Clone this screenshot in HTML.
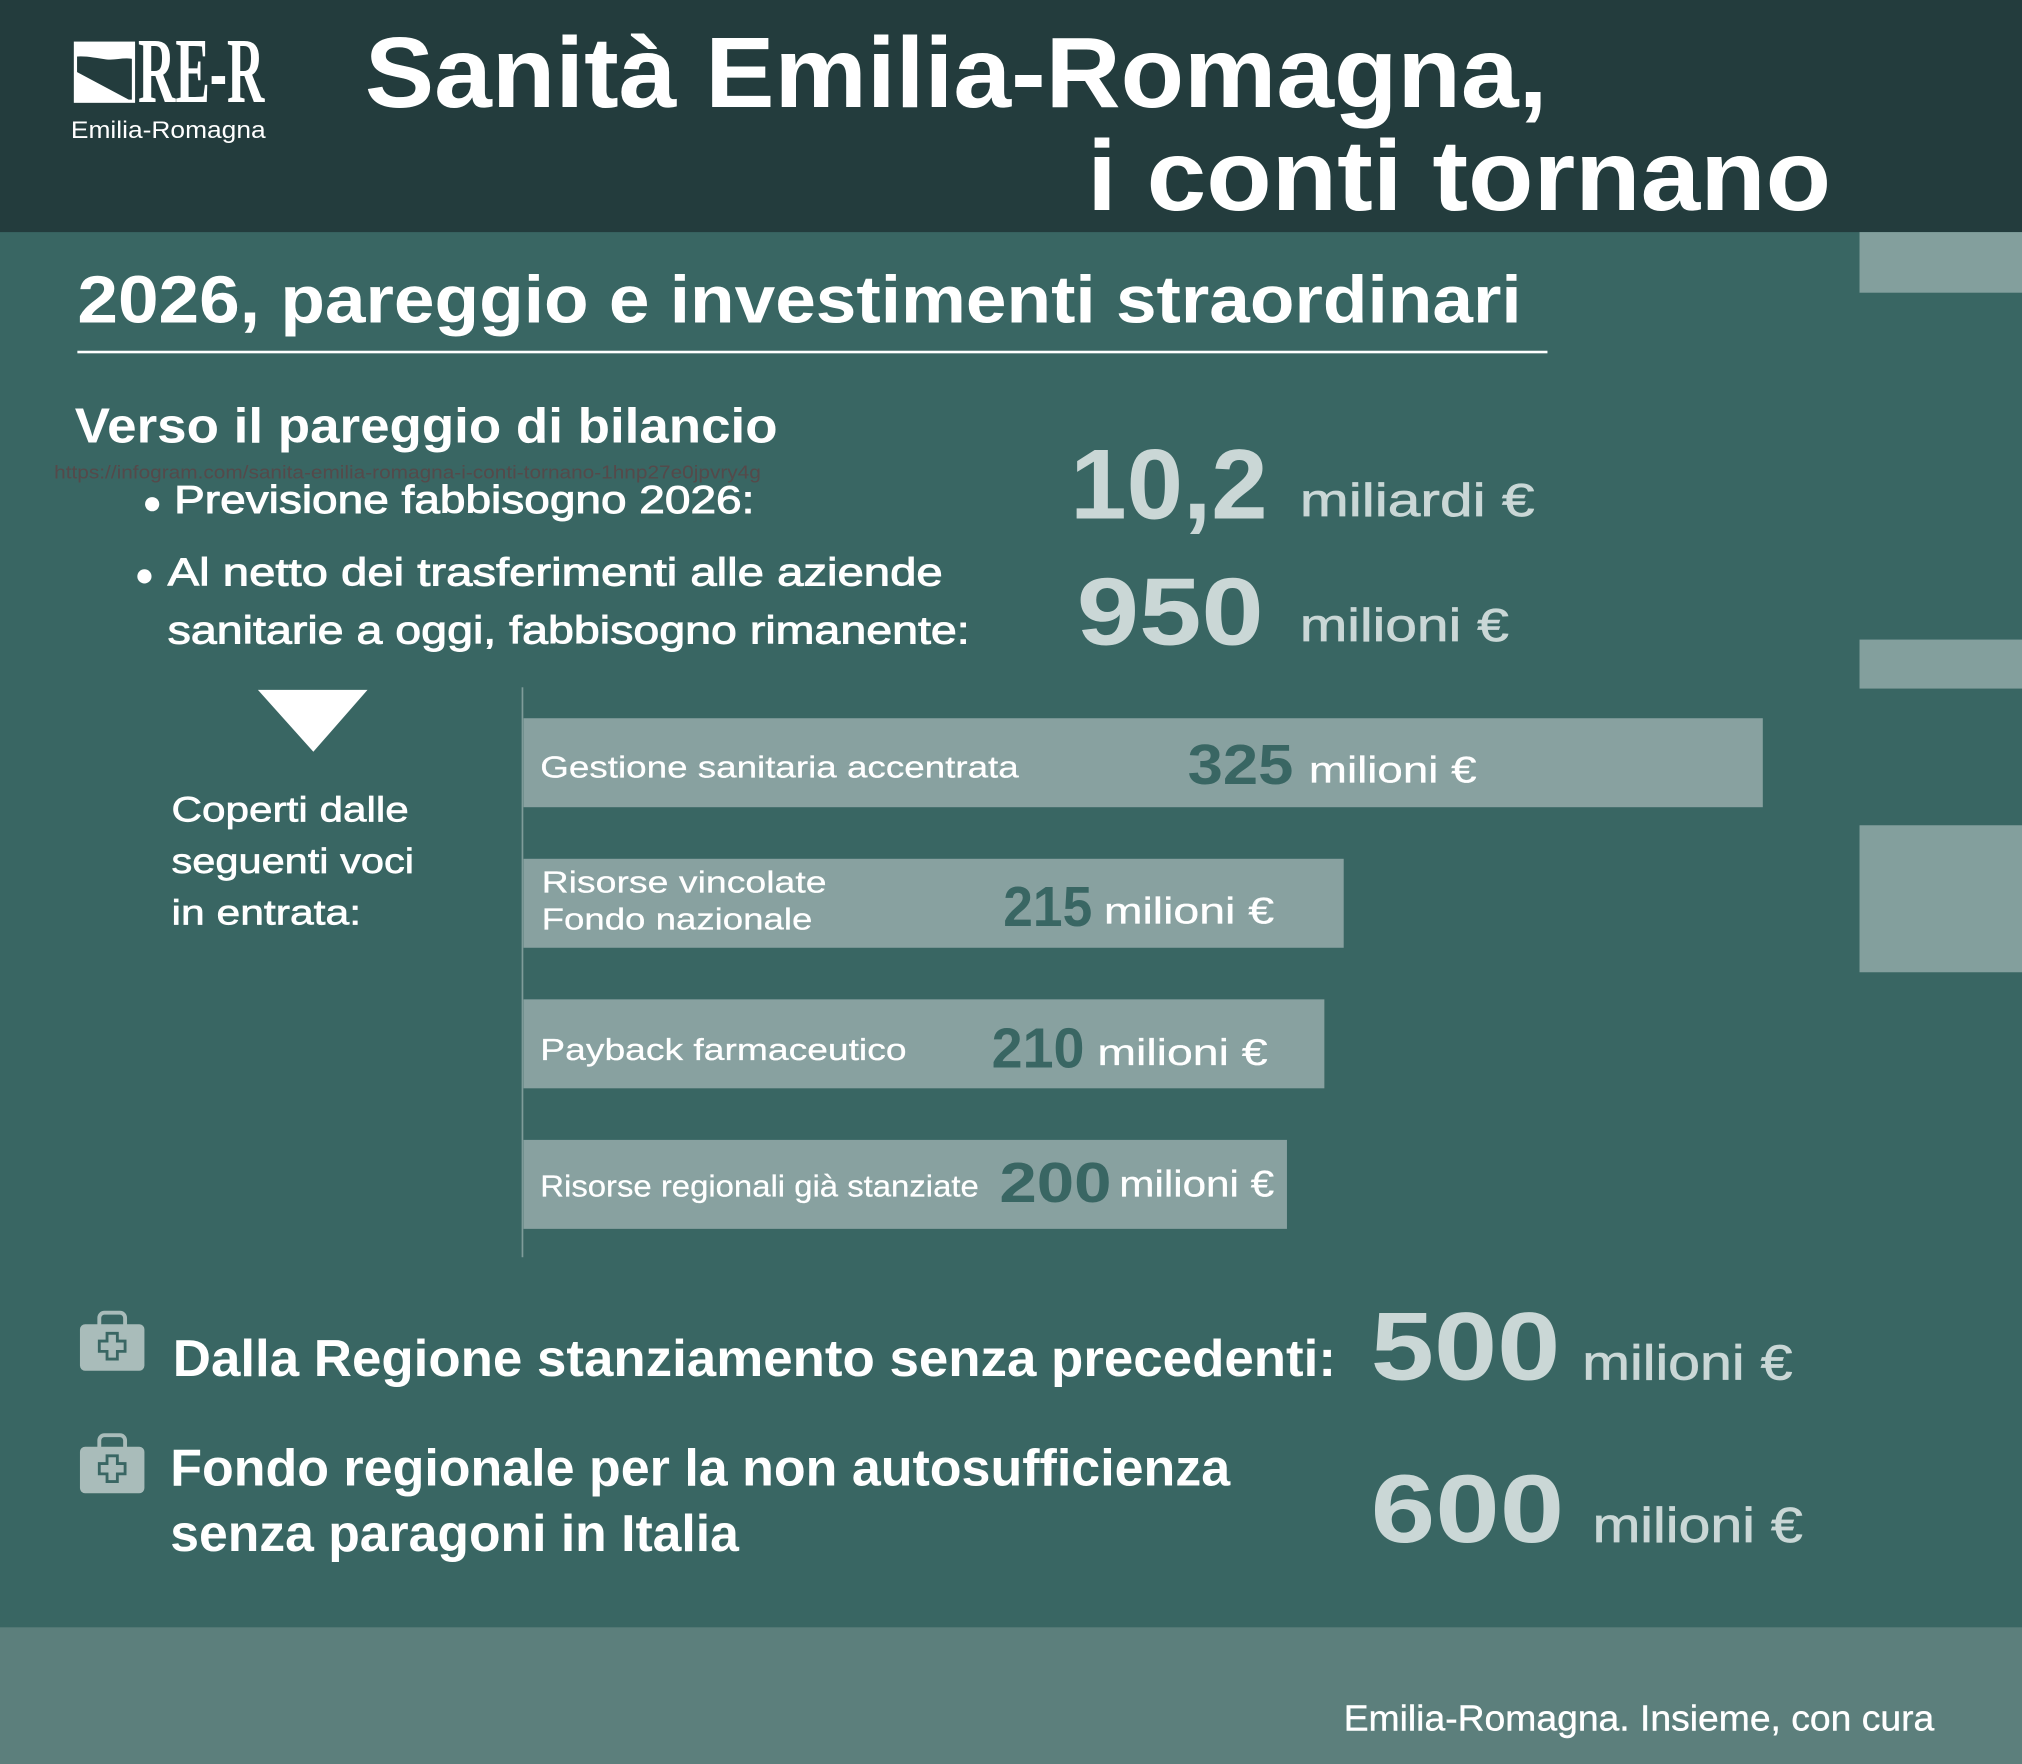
<!DOCTYPE html>
<html>
<head>
<meta charset="utf-8">
<style>
  html,body{margin:0;padding:0;background:#396663;}
  body{width:2022px;height:1764px;overflow:hidden;}
  svg{display:block;}
  text{font-family:"Liberation Sans",Arial,sans-serif;}
</style>
</head>
<body>
<svg width="2022" height="1764" viewBox="0 0 1568 1368" preserveAspectRatio="none" xmlns="http://www.w3.org/2000/svg">
  <!-- backgrounds -->
  <rect x="0" y="0" width="1568" height="1368" fill="#396663"/>
  <rect x="0" y="0" width="1568" height="180" fill="#233c3d"/>
  <rect x="0" y="1262" width="1568" height="106" fill="#5c7f7c"/>

  <!-- right decorative blocks -->
  <rect x="1442" y="180" width="126" height="47" fill="#839f9d"/>
  <rect x="1442" y="496" width="126" height="38" fill="#839f9d"/>
  <rect x="1442" y="640" width="126" height="114" fill="#839f9d"/>

  <!-- logo -->
  <rect x="58.5" y="33.5" width="45" height="45" fill="none" stroke="#ffffff" stroke-width="2.5"/>
  <path d="M58 33 L104 33 L104 46 C96 44 90 47 82 46 C74 45 66 43 58 44 Z" fill="#ffffff"/>
  <path d="M58 55 L103 79 L58 79 Z" fill="#ffffff"/>
  <text x="107" y="79" font-weight="700" font-size="72" fill="#ffffff" textLength="98" lengthAdjust="spacingAndGlyphs" style="font-family:'Liberation Serif',serif">RE-R</text>
  <text x="55" y="107" font-size="19" fill="#ffffff" textLength="151" lengthAdjust="spacingAndGlyphs">Emilia-Romagna</text>

  <!-- title -->
  <text x="283" y="83" font-size="78" font-weight="700" fill="#ffffff" textLength="917" lengthAdjust="spacingAndGlyphs">Sanità Emilia-Romagna,</text>
  <text x="843" y="163" font-size="78" font-weight="700" fill="#ffffff" textLength="577" lengthAdjust="spacingAndGlyphs">i conti tornano</text>

  <!-- subtitle -->
  <text x="60" y="250" font-size="52" font-weight="700" fill="#ffffff" textLength="1120" lengthAdjust="spacingAndGlyphs">2026, pareggio e investimenti straordinari</text>
  <rect x="60" y="272" width="1140" height="2" fill="#ffffff"/>

  <!-- section heading -->
  <text x="58" y="343" font-size="38" font-weight="700" fill="#ffffff" textLength="545" lengthAdjust="spacingAndGlyphs">Verso il pareggio di bilancio</text>
  <text x="42" y="371" font-size="14" fill="#55494a" textLength="548" lengthAdjust="spacingAndGlyphs">https://infogram.com/sanita-emilia-romagna-i-conti-tornano-1hnp27e0jpvry4g</text>

  <!-- bullets -->
  <circle cx="118" cy="391" r="5.5" fill="#ffffff"/>
  <text x="135" y="398" font-size="30" fill="#ffffff" stroke="#ffffff" stroke-width="0.7" textLength="450" lengthAdjust="spacingAndGlyphs">Previsione fabbisogno 2026:</text>
  <circle cx="112" cy="447" r="5.5" fill="#ffffff"/>
  <text x="130" y="454" font-size="30" fill="#ffffff" stroke="#ffffff" stroke-width="0.7" textLength="601" lengthAdjust="spacingAndGlyphs">Al netto dei trasferimenti alle aziende</text>
  <text x="130" y="499" font-size="30" fill="#ffffff" stroke="#ffffff" stroke-width="0.7" textLength="622" lengthAdjust="spacingAndGlyphs">sanitarie a oggi, fabbisogno rimanente:</text>

  <!-- big numbers top -->
  <text x="830" y="402" font-size="77" font-weight="700" fill="#cad7d6" textLength="153" lengthAdjust="spacingAndGlyphs">10,2</text>
  <text x="1008" y="400" font-size="36" fill="#cad7d6" stroke="#cad7d6" stroke-width="0.5" textLength="182" lengthAdjust="spacingAndGlyphs">miliardi €</text>
  <text x="835" y="500" font-size="74" font-weight="700" fill="#cad7d6" textLength="145" lengthAdjust="spacingAndGlyphs">950</text>
  <text x="1008" y="497" font-size="36" fill="#cad7d6" stroke="#cad7d6" stroke-width="0.5" textLength="162" lengthAdjust="spacingAndGlyphs">milioni €</text>

  <!-- triangle + left label -->
  <polygon points="200,535 285,535 243,583" fill="#ffffff"/>
  <text x="133" y="637" font-size="27" fill="#ffffff" stroke="#ffffff" stroke-width="0.5" textLength="184" lengthAdjust="spacingAndGlyphs">Coperti dalle</text>
  <text x="133" y="677" font-size="27" fill="#ffffff" stroke="#ffffff" stroke-width="0.5" textLength="188" lengthAdjust="spacingAndGlyphs">seguenti voci</text>
  <text x="133" y="717" font-size="27" fill="#ffffff" stroke="#ffffff" stroke-width="0.5" textLength="147" lengthAdjust="spacingAndGlyphs">in entrata:</text>

  <!-- axis line -->
  <rect x="404.5" y="533" width="1.3" height="442" fill="#7f9c9a"/>

  <!-- bars -->
  <rect x="406" y="557" width="961" height="69" fill="#88a1a0"/>
  <rect x="406" y="666" width="636" height="69" fill="#88a1a0"/>
  <rect x="406" y="775" width="621" height="69" fill="#88a1a0"/>
  <rect x="406" y="884" width="592" height="69" fill="#88a1a0"/>

  <!-- bar 1 -->
  <text x="419" y="603" font-size="24" fill="#ffffff" stroke="#ffffff" stroke-width="0.2" textLength="371" lengthAdjust="spacingAndGlyphs">Gestione sanitaria accentrata</text>
  <text x="921" y="608" font-size="44" font-weight="700" fill="#396663" textLength="82" lengthAdjust="spacingAndGlyphs">325</text>
  <text x="1015" y="607" font-size="29" fill="#ffffff" stroke="#ffffff" stroke-width="0.25" textLength="130" lengthAdjust="spacingAndGlyphs">milioni €</text>

  <!-- bar 2 -->
  <text x="420" y="692" font-size="24" fill="#ffffff" stroke="#ffffff" stroke-width="0.2" textLength="221" lengthAdjust="spacingAndGlyphs">Risorse vincolate</text>
  <text x="420" y="721" font-size="24" fill="#ffffff" stroke="#ffffff" stroke-width="0.2" textLength="210" lengthAdjust="spacingAndGlyphs">Fondo nazionale</text>
  <text x="778" y="718" font-size="44" font-weight="700" fill="#396663" textLength="69" lengthAdjust="spacingAndGlyphs">215</text>
  <text x="856" y="716" font-size="29" fill="#ffffff" stroke="#ffffff" stroke-width="0.25" textLength="132" lengthAdjust="spacingAndGlyphs">milioni €</text>

  <!-- bar 3 -->
  <text x="419" y="822" font-size="24" fill="#ffffff" stroke="#ffffff" stroke-width="0.2" textLength="284" lengthAdjust="spacingAndGlyphs">Payback farmaceutico</text>
  <text x="769" y="828" font-size="44" font-weight="700" fill="#396663" textLength="72" lengthAdjust="spacingAndGlyphs">210</text>
  <text x="851" y="826" font-size="29" fill="#ffffff" stroke="#ffffff" stroke-width="0.25" textLength="132" lengthAdjust="spacingAndGlyphs">milioni €</text>

  <!-- bar 4 -->
  <text x="419" y="928" font-size="24" fill="#ffffff" stroke="#ffffff" stroke-width="0.2" textLength="340" lengthAdjust="spacingAndGlyphs">Risorse regionali già stanziate</text>
  <text x="775" y="932" font-size="44" font-weight="700" fill="#396663" textLength="87" lengthAdjust="spacingAndGlyphs">200</text>
  <text x="868" y="928" font-size="29" fill="#ffffff" stroke="#ffffff" stroke-width="0.25" textLength="120" lengthAdjust="spacingAndGlyphs">milioni €</text>

  <!-- icon 1 -->
  <g>
    <rect x="77" y="1018" width="20" height="14" rx="4" fill="none" stroke="#a9bcba" stroke-width="3"/>
    <rect x="62" y="1027" width="50" height="36" rx="4" fill="#a9bcba"/>
    <path d="M83 1034 h8 v6 h6 v8 h-6 v6 h-8 v-6 h-6 v-8 h6 Z" fill="#a9bcba" stroke="#396663" stroke-width="2.2"/>
  </g>
  <!-- icon 2 -->
  <g transform="translate(0,95)">
    <rect x="77" y="1018" width="20" height="14" rx="4" fill="none" stroke="#a9bcba" stroke-width="3"/>
    <rect x="62" y="1027" width="50" height="36" rx="4" fill="#a9bcba"/>
    <path d="M83 1034 h8 v6 h6 v8 h-6 v6 h-8 v-6 h-6 v-8 h6 Z" fill="#a9bcba" stroke="#396663" stroke-width="2.2"/>
  </g>

  <!-- bottom statements -->
  <text x="134" y="1067" font-size="40" font-weight="700" fill="#ffffff" textLength="902" lengthAdjust="spacingAndGlyphs">Dalla Regione stanziamento senza precedenti:</text>
  <text x="1063" y="1070" font-size="75" font-weight="700" fill="#cad7d6" textLength="147" lengthAdjust="spacingAndGlyphs">500</text>
  <text x="1227" y="1070" font-size="38" fill="#cad7d6" stroke="#cad7d6" stroke-width="0.5" textLength="163" lengthAdjust="spacingAndGlyphs">milioni €</text>

  <text x="132" y="1152" font-size="40" font-weight="700" fill="#ffffff" textLength="822" lengthAdjust="spacingAndGlyphs">Fondo regionale per la non autosufficienza</text>
  <text x="132" y="1203" font-size="40" font-weight="700" fill="#ffffff" textLength="441" lengthAdjust="spacingAndGlyphs">senza paragoni in Italia</text>
  <text x="1063" y="1196" font-size="75" font-weight="700" fill="#cad7d6" textLength="150" lengthAdjust="spacingAndGlyphs">600</text>
  <text x="1235" y="1196" font-size="38" fill="#cad7d6" stroke="#cad7d6" stroke-width="0.5" textLength="163" lengthAdjust="spacingAndGlyphs">milioni €</text>

  <!-- footer -->
  <text x="1042" y="1342" font-size="28" fill="#ffffff" stroke="#ffffff" stroke-width="0.3" textLength="458" lengthAdjust="spacingAndGlyphs">Emilia-Romagna. Insieme, con cura</text>
</svg>
</body>
</html>
